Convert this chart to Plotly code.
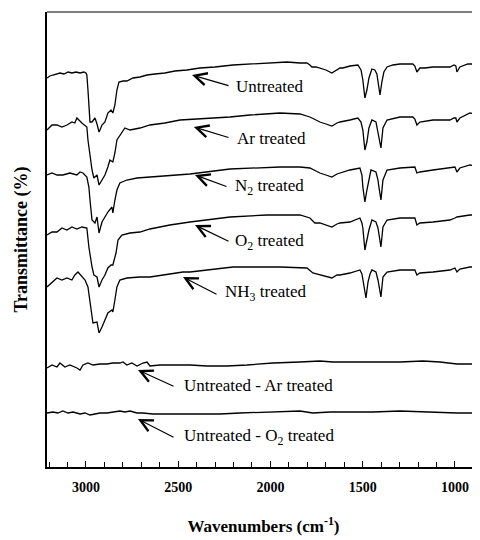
import plotly.graph_objects as go

# ---- data (wavenumber in cm-1, transmittance in arbitrary offset units) ----
untreated_wn = [3211, 3195, 3179, 3162, 3141, 3119, 3097, 3076, 3054, 3032, 3011, 3000, 2995, 2989, 2984, 2978,
                2967, 2962, 2951, 2940, 2929, 2924, 2913, 2897, 2881, 2864, 2854, 2843, 2832, 2821, 2799, 2778,
                2745, 2707, 2669, 2626, 2572, 2518, 2453, 2382, 2301, 2203, 2111, 2003, 1910, 1840, 1802, 1786,
                1775, 1753, 1732, 1699, 1667, 1639, 1623, 1607, 1569, 1526, 1509, 1499, 1488, 1477, 1466, 1450,
                1434, 1423, 1412, 1406, 1396, 1385, 1368, 1336, 1298, 1260, 1228, 1217, 1206, 1190, 1163, 1119,
                1070, 1027, 1005, 995, 989, 983, 973, 930, 897, 881, 864]
untreated_t = [77.8, 78.2, 78.4, 78.6, 78.8, 78.6, 79.0, 78.8, 79.0, 78.8, 79.0, 78.8, 78.4, 75.4, 71.4, 69.0,
               69.0, 69.2, 69.8, 68.6, 67.0, 67.4, 68.4, 69.0, 70.8, 71.4, 70.8, 72.4, 75.4, 77.0, 77.2, 77.2,
               77.8, 78.0, 78.4, 78.6, 78.8, 79.2, 79.4, 79.8, 80.0, 80.4, 80.6, 80.8, 81.0, 80.8, 80.8, 80.4,
               80.0, 80.0, 79.8, 79.4, 78.8, 79.4, 79.8, 79.8, 80.2, 80.4, 79.4, 77.4, 73.8, 75.4, 77.8, 79.6,
               79.4, 78.6, 76.4, 74.4, 77.0, 79.0, 80.0, 80.4, 80.6, 80.6, 80.6, 80.2, 79.0, 79.8, 79.8, 80.0,
               80.0, 80.0, 80.4, 80.2, 79.0, 79.4, 80.0, 80.6, 80.6, 80.4, 80.8]

ar_wn = [3211, 3184, 3157, 3130, 3103, 3076, 3060, 3049, 3022, 3005, 2995, 2989, 2978, 2967, 2957, 2940,
         2929, 2913, 2897, 2881, 2870, 2854, 2843, 2832, 2816, 2789, 2761, 2707, 2653, 2572, 2490, 2382,
         2219, 2111, 1948, 1840, 1786, 1753, 1732, 1699, 1667, 1639, 1623, 1569, 1526, 1509, 1499, 1488,
         1477, 1466, 1450, 1428, 1417, 1406, 1401, 1390, 1368, 1298, 1228, 1217, 1206, 1190, 1119, 1027,
         1005, 995, 989, 973, 919, 864]
ar_t = [67.4, 68.4, 68.4, 68.0, 68.4, 69.0, 68.8, 69.8, 68.8, 68.4, 68.0, 65.4, 62.0, 59.4, 57.8, 58.4,
        56.4, 57.4, 58.4, 60.0, 61.4, 61.0, 62.8, 65.4, 66.4, 67.8, 67.4, 67.8, 68.4, 68.8, 69.4, 69.6,
        70.0, 70.4, 70.8, 70.6, 70.0, 69.4, 69.0, 68.6, 68.2, 68.8, 69.0, 69.4, 69.8, 69.0, 67.4, 63.4,
        65.0, 67.8, 69.4, 69.0, 66.8, 64.4, 63.8, 67.8, 69.4, 70.0, 70.0, 69.6, 68.4, 69.0, 69.4, 69.4,
        69.8, 69.8, 69.0, 69.8, 70.8, 70.4]

n2_wn = [3211, 3184, 3157, 3125, 3087, 3049, 3032, 3016, 2995, 2984, 2978, 2967, 2951, 2940, 2929, 2913,
         2897, 2881, 2859, 2854, 2843, 2832, 2816, 2778, 2723, 2653, 2572, 2436, 2219, 2111, 1948, 1840,
         1786, 1753, 1732, 1699, 1667, 1639, 1623, 1569, 1515, 1504, 1499, 1488, 1477, 1466, 1455, 1428,
         1417, 1412, 1401, 1390, 1368, 1298, 1217, 1206, 1190, 1119, 1027, 1000, 989, 973, 919, 864]
n2_t = [58.4, 58.8, 58.4, 58.4, 58.8, 58.4, 59.0, 58.8, 58.0, 56.0, 53.4, 49.4, 48.8, 50.0, 46.8, 49.0,
        50.0, 51.0, 52.0, 50.8, 53.4, 55.4, 56.8, 57.4, 57.8, 58.0, 58.2, 58.6, 59.6, 59.8, 60.0, 60.0,
        59.8, 59.2, 58.8, 58.4, 58.0, 58.6, 58.8, 59.4, 59.8, 58.4, 56.0, 53.0, 55.4, 57.8, 59.4, 59.0,
        57.4, 56.0, 53.4, 57.4, 59.4, 59.8, 60.0, 58.8, 59.0, 59.4, 59.8, 60.0, 59.0, 59.8, 60.4, 60.0]

o2_wn = [3211, 3184, 3157, 3130, 3103, 3076, 3049, 3022, 2995, 2984, 2967, 2957, 2940, 2929, 2913, 2897,
         2881, 2864, 2854, 2837, 2826, 2805, 2761, 2707, 2653, 2545, 2436, 2219, 2019, 1840, 1786, 1759,
         1732, 1699, 1667, 1639, 1623, 1569, 1515, 1504, 1499, 1488, 1477, 1466, 1450, 1428, 1417, 1406,
         1401, 1390, 1368, 1298, 1217, 1206, 1190, 1119, 1027, 1000, 989, 919, 881, 864]
o2_t = [46.4, 47.0, 47.0, 47.8, 47.4, 48.0, 47.6, 48.0, 47.8, 44.0, 40.0, 38.4, 38.0, 36.0, 37.4, 38.4,
        39.8, 40.4, 40.4, 42.8, 45.4, 46.4, 46.8, 47.0, 47.6, 48.4, 49.0, 50.0, 50.4, 50.4, 49.8, 48.8,
        48.8, 48.4, 48.0, 48.6, 48.8, 49.0, 49.8, 48.8, 47.8, 43.4, 45.4, 47.4, 49.4, 49.0, 47.8, 45.4,
        44.0, 48.0, 49.4, 49.8, 49.8, 48.4, 48.8, 49.0, 49.4, 49.8, 50.0, 50.4, 50.4, 50.0]

nh3_wn = [3211, 3184, 3157, 3130, 3103, 3076, 3060, 3043, 3022, 3005, 2989, 2978, 2967, 2962, 2940, 2929,
          2913, 2897, 2881, 2859, 2854, 2843, 2832, 2816, 2778, 2707, 2653, 2545, 2474, 2436, 2203, 1948,
          1802, 1770, 1732, 1699, 1667, 1639, 1623, 1569, 1515, 1504, 1499, 1482, 1471, 1460, 1450, 1428,
          1417, 1401, 1390, 1368, 1298, 1217, 1206, 1190, 1119, 1027, 1000, 989, 973, 919, 864]
nh3_t = [36.0, 37.0, 37.8, 37.4, 37.8, 37.4, 38.4, 39.0, 38.0, 37.4, 36.0, 33.4, 30.4, 28.8, 29.0, 26.8,
         28.0, 29.4, 30.8, 31.4, 31.0, 33.4, 36.0, 37.4, 37.8, 38.0, 38.0, 38.6, 39.0, 39.0, 40.0, 40.0,
         39.8, 38.8, 38.4, 38.2, 37.8, 38.4, 38.4, 38.8, 39.4, 38.6, 37.4, 33.8, 37.0, 38.6, 39.4, 39.0,
         37.4, 34.0, 38.0, 39.0, 39.4, 39.4, 38.4, 38.8, 39.0, 39.4, 39.8, 39.0, 39.6, 40.0, 40.0]

diff_ar_wn = [3211, 3184, 3157, 3141, 3114, 3087, 3049, 3032, 3016, 2989, 2962, 2924, 2886, 2854, 2816, 2799,
              2778, 2751, 2723, 2691, 2669, 2653, 2599, 2528, 2436, 2344, 2236, 2127, 1986, 1840, 1732, 1661,
              1569, 1444, 1298, 1173, 1081, 989, 902, 864]
diff_ar_t = [19.8, 20.4, 20.0, 20.8, 20.0, 20.4, 19.8, 19.4, 20.4, 20.8, 20.4, 20.6, 20.6, 20.8, 20.8, 21.0,
             20.4, 20.8, 20.2, 20.8, 21.0, 20.2, 20.4, 20.4, 20.4, 20.2, 20.2, 20.4, 20.8, 21.0, 21.2, 21.0,
             21.0, 21.0, 21.0, 21.2, 21.0, 20.6, 20.6, 20.6]

diff_o2_wn = [3211, 3179, 3152, 3125, 3097, 3070, 3032, 3005, 2978, 2951, 2924, 2886, 2854, 2816, 2789, 2761,
              2723, 2691, 2637, 2561, 2490, 2382, 2274, 2165, 1986, 1840, 1770, 1677, 1569, 1444, 1298, 1173,
              1081, 989, 864]
diff_o2_t = [10.8, 11.0, 10.8, 11.2, 10.8, 11.0, 10.6, 10.8, 10.4, 10.6, 10.8, 10.8, 11.0, 11.2, 11.0, 11.2,
             10.8, 10.8, 10.6, 10.6, 10.6, 10.6, 10.6, 10.8, 11.0, 11.2, 10.8, 11.0, 11.0, 11.0, 11.2, 11.0,
             10.8, 10.8, 10.8]

labels = ["Untreated", "Ar treated", "N<sub>2</sub> treated", "O<sub>2</sub> treated",
          "NH<sub>3</sub> treated", "Untreated - Ar treated", "Untreated - O<sub>2</sub> treated"]
# label anchor (text start), arrow head and arrow tail in data coordinates
label_x = [2198, 2192, 2203, 2203, 2257, 2480, 2480]
label_y = [76.2, 65.8, 56.0, 45.0, 34.8, 16.4, 6.0]
head_x = [2425, 2415, 2409, 2409, 2474, 2718, 2718]
head_y = [78.4, 68.0, 58.4, 48.4, 38.0, 19.4, 9.6]
tail_x = [2219, 2219, 2230, 2219, 2284, 2517, 2517]
tail_y = [76.2, 65.8, 56.0, 45.0, 34.4, 16.0, 5.8]

series = [(untreated_wn, untreated_t), (ar_wn, ar_t), (n2_wn, n2_t), (o2_wn, o2_t),
          (nh3_wn, nh3_t), (diff_ar_wn, diff_ar_t), (diff_o2_wn, diff_o2_t)]

SERIF = "Liberation Serif, Times New Roman, serif"

fig = go.Figure()
for (wn, t), name in zip(series, labels):
    fig.add_trace(go.Scatter(x=wn, y=t, mode="lines", name=name,
                             line=dict(color="black", width=1.3), showlegend=False))

for i in range(len(labels)):
    fig.add_annotation(x=label_x[i], y=label_y[i], text=labels[i], showarrow=False,
                       xanchor="left", yanchor="middle",
                       font=dict(family=SERIF, size=17, color="black"))
    fig.add_annotation(x=head_x[i], y=head_y[i], ax=tail_x[i], ay=tail_y[i],
                       axref="x", ayref="y", text="", showarrow=True,
                       arrowhead=5, arrowsize=2.0, arrowwidth=1.2, arrowcolor="black")

fig.add_shape(type="line", xref="paper", yref="paper", x0=0, x1=1, y0=1, y1=1,
              line=dict(color="black", width=1.2))

# page body adds an 8px margin, so the figure is 8px smaller than the window
fig.update_layout(
    width=472, height=532,
    margin=dict(l=39, r=0, t=4, b=73),
    paper_bgcolor="white", plot_bgcolor="white",
    xaxis=dict(range=[3211, 864], showgrid=False, zeroline=False, automargin=False,
               showline=True, linecolor="black", linewidth=1.5,
               tick0=0, dtick=500, ticks="inside", ticklen=6, tickwidth=1.2, tickcolor="black",
               tickformat="d", ticklabelstandoff=6,
               tickfont=dict(family=SERIF, size=14, color="black", weight="bold"),
               minor=dict(dtick=100, ticks="inside", ticklen=5, tickwidth=1.2, tickcolor="black"),
               title=dict(text="Wavenumbers (cm<sup>-1</sup>)", standoff=27,
                          font=dict(family=SERIF, size=17, color="black", weight="bold"))),
    yaxis=dict(range=[0, 91], showgrid=False, zeroline=False, automargin=False,
               showline=True, linecolor="black", linewidth=1.5,
               ticks="", showticklabels=False,
               title=dict(text="Transmittance (%)", standoff=13,
                          font=dict(family=SERIF, size=18, color="black", weight="bold"))),
)

fig.write_html("out.html")
